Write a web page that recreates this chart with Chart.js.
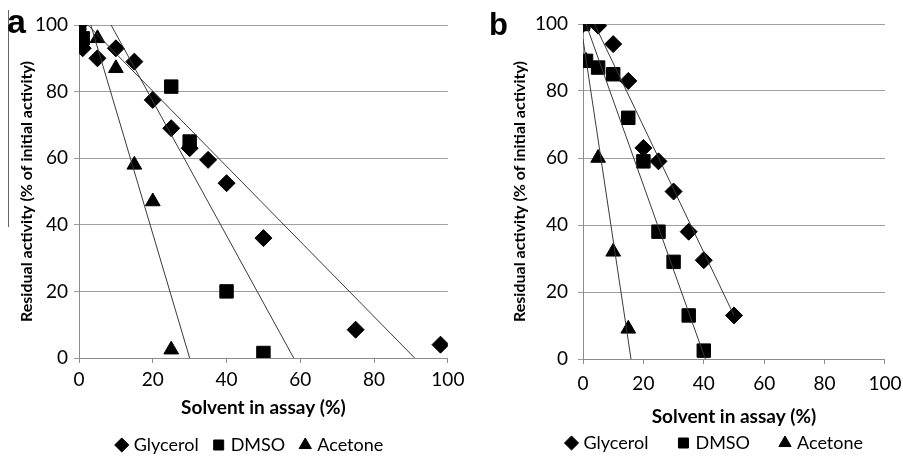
<!DOCTYPE html>
<html>
<head>
<meta charset="utf-8">
<script src="https://cdn.jsdelivr.net/npm/chart.js@4.4.0/dist/chart.umd.min.js"></script>
<style>
    html, body { margin: 0; padding: 0; background: #fff; overflow: hidden; }
    body { width: 903px; height: 457px; position: relative; }
    canvas { position: absolute; top: 0; }
    #chartA { left: 0; }
    #chartB { left: 460px; }
    .tag { position: absolute; font-family: 'Liberation Sans', Arial, sans-serif; font-weight: bold; color: #000; }
    .rule { position: absolute; left: 8px; top: 10px; width: 1px; height: 217px; background: #666; }
</style>
</head>
<body>
<canvas id="chartA" width="470" height="470"></canvas>
<canvas id="chartB" width="450" height="470"></canvas>
<div class="rule"></div>
<div class="tag" style="left:7px; top:4px; font-size:34px; line-height:34px;">a</div>
<div class="tag" style="left:489px; top:9px; font-size:31px; line-height:31px;">b</div>
<script>
// 공통 축 눈금과 계열 이름
const ticksX = [0, 20, 40, 60, 80, 100];
const ticksY = [0, 20, 40, 60, 80, 100];
const seriesNames = ['Glycerol', 'DMSO', 'Acetone'];

// 패널 a 데이터
const glycA_x = [0, 1, 5, 10, 15, 20, 25, 30, 35, 40, 50, 75, 98];
const glycA_y = [100, 93, 90, 93, 89, 77.5, 69, 63, 59.5, 52.5, 36, 8.5, 4];
const dmsoA_x = [0, 1, 25, 30, 40, 50];
const dmsoA_y = [100, 96, 81.5, 65, 20, 1.5];
const acetA_x = [0, 5, 10, 15, 20, 25];
const acetA_y = [100, 96, 87, 58, 47, 2.5];
// 패널 a 추세선 (양 끝점)
const glycA_fit_x = [2.4, 91];
const glycA_fit_y = [100, 0];
const dmsoA_fit_x = [8.7, 58.2];
const dmsoA_fit_y = [100, 0];
const acetA_fit_x = [3.2, 30];
const acetA_fit_y = [100, 0];

// 패널 b 데이터
const glycB_x = [0, 5, 10, 15, 20, 25, 30, 35, 40, 50];
const glycB_y = [100, 99.5, 94, 83, 63, 59, 50, 38, 29.5, 13];
const dmsoB_x = [0, 1, 5, 10, 15, 20, 25, 30, 35, 40];
const dmsoB_y = [100, 89, 87, 85, 72, 59, 38, 29, 13, 2.5];
const acetB_x = [0, 1, 5, 10, 15];
const acetB_y = [100, 89, 60, 32, 9];
// 패널 b 추세선
const glycB_fit_x = [3.8, 50];
const glycB_fit_y = [100, 13];
const dmsoB_fit_x = [1, 40.5];
const dmsoB_fit_y = [100, 0];
const acetB_fit_x = [0, 15.9];
const acetB_fit_y = [95.5, 0];

const FONT = 'Lato, "Open Sans", sans-serif';
const markerStyles = ['rectRot', 'rect', 'triangle'];
const markerSizes = [8.5, 9.5, 8.5];

// 범례를 가로로 살짝 옮기는 플러그인
const legendShift = {
    id: 'legendShift',
    afterLayout(chart, args, opts) {
        chart.legend.left += opts.dx;
        chart.legend.right += opts.dx;
    }
};

function toPoints(xs, ys) {
    return xs.map((x, i) => ({ x: x, y: ys[i] }));
}

function buildChart(id, series, fits, lay) {
    const datasets = [];
    series.forEach((s, i) => {
        datasets.push({
            label: seriesNames[i],
            data: toPoints(s[0], s[1]),
            showLine: false,
            pointStyle: markerStyles[i],
            pointRadius: markerSizes[i],
            backgroundColor: '#000',
            borderColor: '#000',
            borderWidth: 1,
            order: 3 - i
        });
    });
    fits.forEach(f => {
        datasets.push({
            label: '',
            data: toPoints(f[0], f[1]),
            showLine: true,
            pointRadius: 0,
            borderColor: '#3a3a3a',
            borderWidth: 1,
            order: 0
        });
    });

    return new Chart(document.getElementById(id), {
        type: 'scatter',
        data: { datasets: datasets },
        plugins: [legendShift],
        options: {
            responsive: false,
            animation: false,
            layout: {
                autoPadding: false,
                padding: { left: lay.padL, right: lay.padR, top: lay.padT, bottom: lay.padB }
            },
            plugins: {
                tooltip: { enabled: false },
                legendShift: { dx: lay.legShift },
                legend: {
                    position: 'bottom',
                    align: lay.legAlign,
                    labels: {
                        usePointStyle: true,
                        boxWidth: 6,
                        boxHeight: 10,
                        padding: lay.legPad,
                        color: '#000',
                        font: { family: FONT, size: 18 },
                        filter: item => item.datasetIndex < 3,
                        sort: (a, b) => a.datasetIndex - b.datasetIndex
                    }
                }
            },
            scales: {
                x: {
                    type: 'linear',
                    min: 0,
                    max: 100,
                    afterBuildTicks: s => { s.ticks = ticksX.map(v => ({ value: v })); },
                    afterFit: s => { s.height = lay.xH; },
                    grid: { drawOnChartArea: false, drawTicks: true, tickLength: 5, color: '#8c8c8c' },
                    border: { color: '#8c8c8c' },
                    ticks: { padding: lay.xTickPad, color: '#000', autoSkip: false, maxRotation: 0, font: { family: FONT, size: 19 } },
                    title: {
                        display: true,
                        text: 'Solvent in assay (%)',
                        color: '#000',
                        font: { family: FONT, size: 19, weight: 'bold' },
                        padding: { top: 0, bottom: lay.xTitlePad }
                    }
                },
                y: {
                    type: 'linear',
                    min: 0,
                    max: 100,
                    afterBuildTicks: s => { s.ticks = ticksY.map(v => ({ value: v })); },
                    afterFit: s => { s.width = lay.yW; },
                    grid: { drawTicks: true, tickLength: 5, color: '#a0a0a0' },
                    border: { color: '#8c8c8c' },
                    ticks: { padding: lay.yTickPad, color: '#000', font: { family: FONT, size: 19 } },
                    title: {
                        display: true,
                        text: 'Residual activity (% of initial activity)',
                        color: '#000',
                        font: { family: FONT, size: 16, weight: 'bold' },
                        padding: { top: lay.yTitlePad, bottom: 0 }
                    }
                }
            }
        }
    });
}

document.addEventListener('DOMContentLoaded', function() {
    buildChart('chartA',
        [[glycA_x, glycA_y], [dmsoA_x, dmsoA_y], [acetA_x, acetA_y]],
        [[glycA_fit_x, glycA_fit_y], [dmsoA_fit_x, dmsoA_fit_y], [acetA_fit_x, acetA_fit_y]],
        { padL: 36, padR: 20, padT: 25, padB: 6, yW: 43, xH: 61, legPad: 17, legAlign: 'center', legShift: 8,
          xTickPad: 5.6, xTitlePad: -0.4, yTickPad: 6, yTitlePad: -18.6 });

    buildChart('chartB',
        [[glycB_x, glycB_y], [dmsoB_x, dmsoB_y], [acetB_x, acetB_y]],
        [[glycB_fit_x, glycB_fit_y], [dmsoB_fit_x, dmsoB_fit_y], [acetB_fit_x, acetB_fit_y]],
        { padL: 55, padR: 22, padT: 24, padB: 8, yW: 68, xH: 43, legPad: 32, legAlign: 'end', legShift: 7,
          xTickPad: 8.5, xTitlePad: -26, yTickPad: 10, yTitlePad: -4.6 });
});
</script>
</body>
</html>
